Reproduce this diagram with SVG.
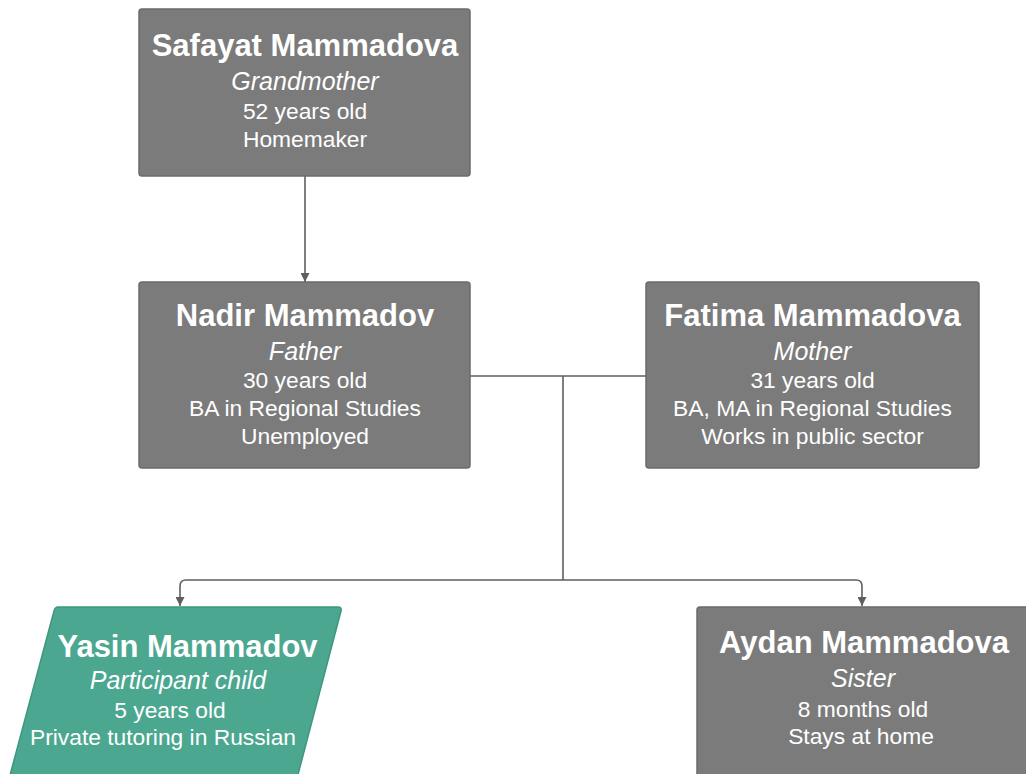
<svg xmlns="http://www.w3.org/2000/svg" width="1026" height="774" viewBox="0 0 1026 774">
  <defs>
    <marker id="arrow" viewBox="0 0 10 10" refX="10" refY="5" markerWidth="9" markerHeight="9" markerUnits="userSpaceOnUse" orient="auto">
      <path d="M0,0 L10,5 L0,10 Z" fill="#5f5f5f"/>
    </marker>
    <style>
      .box { fill: #7b7b7b; stroke: #6b6b6b; stroke-width: 1.5; }
      .kid { fill: #4ba78f; stroke: #3f9680; stroke-width: 1.5; }
      .line { fill: none; stroke: #5f5f5f; stroke-width: 1.6; }
      text { font-family: "Liberation Sans", Arial, sans-serif; fill: #ffffff; text-anchor: middle; }
      .name { font-size: 31px; font-weight: bold; }
      .role { font-size: 25px; font-style: italic; }
      .info { font-size: 22.8px; }
    </style>
  </defs>
  <rect width="1026" height="774" fill="#ffffff"/>

  <!-- connectors -->
  <g id="connectors">
    <path class="line" d="M305,176 V282" marker-end="url(#arrow)"/>
    <path class="line" d="M470,376 H646"/>
    <path class="line" d="M563,376 V580"/>
    <path class="line" d="M563,580 H186 Q180,580 180,586 V606" marker-end="url(#arrow)"/>
    <path class="line" d="M563,580 H856 Q862,580 862,586 V606" marker-end="url(#arrow)"/>
  </g>

  <g id="safayat">
    <rect class="box" x="139" y="9" width="331" height="167" rx="3"/>
    <text class="name" x="305" y="56">Safayat Mammadova</text>
    <text class="role" x="305" y="90">Grandmother</text>
    <text class="info" x="305" y="119">52 years old</text>
    <text class="info" x="305" y="146.5">Homemaker</text>
  </g>

  <g id="nadir">
    <rect class="box" x="139" y="282" width="331" height="186" rx="3"/>
    <text class="name" x="305" y="326">Nadir Mammadov</text>
    <text class="role" x="305" y="360">Father</text>
    <text class="info" x="305" y="388">30 years old</text>
    <text class="info" x="305" y="416">BA in Regional Studies</text>
    <text class="info" x="305" y="443.5">Unemployed</text>
  </g>

  <g id="fatima">
    <rect class="box" x="646" y="282" width="333" height="186" rx="3"/>
    <text class="name" x="812.5" y="326">Fatima Mammadova</text>
    <text class="role" x="812.5" y="360">Mother</text>
    <text class="info" x="812.5" y="388">31 years old</text>
    <text class="info" x="812.5" y="416">BA, MA in Regional Studies</text>
    <text class="info" x="812.5" y="443.5">Works in public sector</text>
  </g>

  <g id="yasin">
    <path class="kid" d="M58,607 H338 Q342,607 341,611 L290,805 H2 L54,611 Q55,607 58,607 Z"/>
    <text class="name" x="187.5" y="656.5">Yasin Mammadov</text>
    <text class="role" x="178" y="688.5">Participant child</text>
    <text class="info" x="170" y="717.5">5 years old</text>
    <text class="info" x="163" y="745">Private tutoring in Russian</text>
  </g>

  <g id="aydan">
    <rect class="box" x="697" y="607" width="333" height="186" rx="3"/>
    <text class="name" x="864" y="653">Aydan Mammadova</text>
    <text class="role" x="863" y="687">Sister</text>
    <text class="info" x="863" y="717">8 months old</text>
    <text class="info" x="861" y="743.5">Stays at home</text>
  </g>
</svg>
